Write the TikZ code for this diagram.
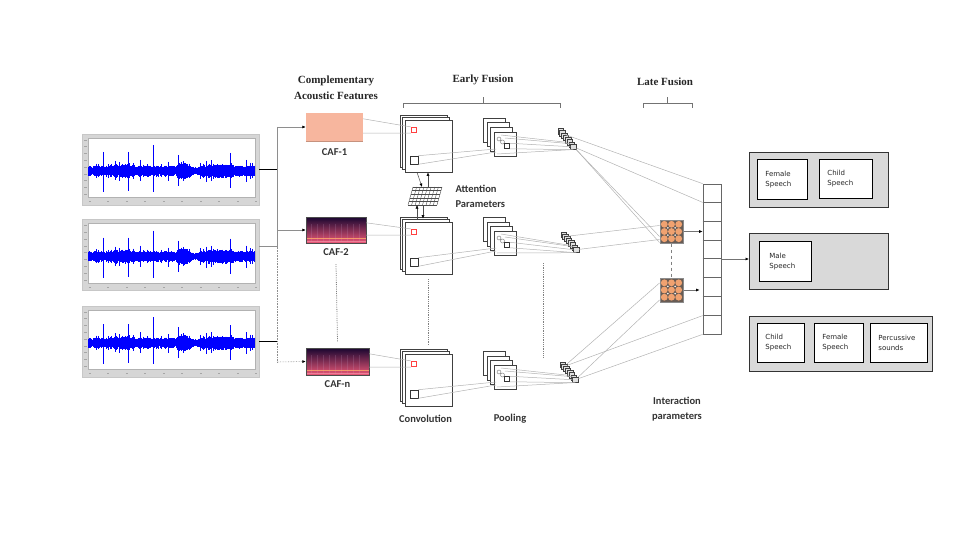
\documentclass[tikz,border=0pt]{standalone}
\usepackage{fontspec}
\setmainfont{Liberation Serif}
\setsansfont{Carlito}
\newfontfamily\boxfont{DejaVu Sans}
\usetikzlibrary{calc,arrows.meta}

\definecolor{peach}{RGB}{247,182,158}
\definecolor{magtop}{RGB}{24,6,48}
\definecolor{magmid}{RGB}{130,34,140}
\definecolor{magbot}{RGB}{236,88,120}
\definecolor{magband}{RGB}{252,168,108}
\definecolor{ipback}{RGB}{105,92,84}
\definecolor{iporange}{RGB}{240,162,112}
\definecolor{outgray}{RGB}{217,217,217}
\definecolor{wirec}{RGB}{178,178,178}

\tikzset{
    wire/.style={draw=wirec, line width=0.5pt},
    arr/.style={-{Latex[length=3.5pt,width=3pt,color=black]}},
    head/.style={font=\bfseries\fontsize{11}{15.5}\selectfont, align=center, text=black!85},
    tag/.style={font=\sffamily\bfseries\fontsize{10.5}{15}\selectfont, align=center, text=black!80},
    panel/.style={draw=black!22, fill=black!16, minimum width=177pt, minimum height=71pt, inner sep=0pt},
    wave/.style={draw=blue, line width=0.6pt},
    caf/.style={inner sep=0pt},
    convsq/.style={draw=black!75, fill=white, line width=0.7pt, minimum width=47pt, minimum height=52pt, inner sep=0pt},
    poolsq/.style={draw=black!75, fill=white, line width=0.6pt, minimum width=22pt, minimum height=24pt, inner sep=0pt},
    cube/.style={draw=black!75, fill=black!12, line width=0.5pt, minimum size=5.5pt, inner sep=0pt},
    ipgrid/.style={draw=black!45, fill=ipback, line width=0.5pt, minimum size=23.5pt, inner sep=0pt},
    outbox/.style={draw=black!80, fill=outgray, line width=0.9pt, anchor=north west, inner sep=0pt},
    cls/.style={draw=black, fill=white, line width=0.8pt, anchor=north west, align=left, inner xsep=8pt, inner ysep=0pt, font=\boxfont\fontsize{7}{10}\selectfont, text=black!85},
}

\begin{document}
\begin{tikzpicture}[x=1pt, y=-1pt]
    \useasboundingbox (0,0) rectangle (960,540);

    \node (W1) at (170.5,169.5) [panel] {};
    \node (W2) at (170.5,255) [panel] {};
    \node (W3) at (170.5,341.5) [panel] {};

    \foreach \n in {W1, W2, W3}
        {
            \fill[white, draw=black!30, line width=0.3pt] ($(\n.north west)+(6,4)$) rectangle ($(\n.south east)+(-4,-8)$);
            \foreach \k in {0,...,8}
                \draw[black!35, line width=0.3pt] ($(\n.north west)+(2.5,6+6.8*\k)$) -- ++(2.5,0);
            \foreach \k in {0,...,9}
                \draw[black!35, line width=0.3pt] ($(\n.south west)+(7+18.5*\k,-4)$) -- ++(2,0);
            \pgfmathsetseed{42}
            \foreach \t in {0,0.5,...,166.5}
                {
                    \pgfmathsetmacro{\a}{(5.4+1.8*max(0,1-abs(\t-35)/18)+5*max(0,1-abs(\t-95)/7)+2.2*max(0,1-abs(\t-128)/20)-2.2*max(0,1-abs(\t-108)/5))*(0.6+0.4*rnd)+(rnd>0.92)*4*rnd}
                    \pgfmathsetmacro{\b}{\a*(0.85+0.3*rnd)}
                    \draw[wave] ($(\n.west)+(6+\t,1.5-\a)$) -- ($(\n.west)+(6+\t,1.5+\b)$);
                }
            \foreach \t/\u/\d in {15/19/21, 40/19/20, 65/26/21, 90/16/15, 142/18/17, 52/11/10, 118/10/11, 158/11/11, 27/10/9, 80/9/10}
                \draw[wave] ($(\n.west)+(6+\t,1.5-\u)$) -- ($(\n.west)+(6+\t,1.5+\d)$);
        }

    \coordinate (J1) at (277,127);
    \coordinate (J2) at (277,230);
    \coordinate (J3) at (277,246.5);
    \coordinate (J4) at (277,362);

    \node (H1) at (336,88) [head] {Complementary\\Acoustic Features};
    \node (H2) at (483,80) [head] {Early Fusion};
    \node (H3) at (665,82) [head] {Late Fusion};

    \draw[black!55, line width=0.6pt] (403,108) -- (403,103) -- (560,103) -- (560,108) (483,103) -- (483,97);
    \draw[black!55, line width=0.6pt] (643,108) -- (643,103) -- (692,103) -- (692,108) (667,103) -- (667,97);

    \node (CAF1) at (334.5,127) [caf, fill=peach, minimum width=57pt, minimum height=28pt] {};
    \draw[peach!80!black, line width=0.8pt] (CAF1.south west) -- (CAF1.south east);
    \node (CAF2) at (336,230) [caf, top color=magtop, middle color=magmid, bottom color=magbot, minimum width=60pt, minimum height=26pt] {};
    \node (CAFn) at (337.5,361.5) [caf, top color=magtop, middle color=magmid, bottom color=magbot, minimum width=63pt, minimum height=27pt] {};

    \foreach \n in {CAF2, CAFn}
        {
            \foreach \k in {1,...,9}
                \draw[magmid!40!white, opacity=0.18, line width=0.7pt] ($(\n.north west)+(6*\k,7)$) -- ($(\n.south west)+(6*\k,-1)$);
            \draw[magband, line width=1.2pt, opacity=0.85] ($(\n.south west)+(0,-5)$) -- ($(\n.south east)+(0,-5)$);
            \draw[magbot!70!white, line width=0.8pt, opacity=0.8] ($(\n.south west)+(0,-1.5)$) -- ($(\n.south east)+(0,-1.5)$);
            \draw[black!70, line width=0.5pt] (\n.north west) rectangle (\n.south east);
        }

    \node (L1) at ($(CAF1.south)+(0,11)$) [tag] {CAF-1};
    \node (L2) at ($(CAF2.south)+(0,9)$) [tag] {CAF-2};
    \node (Ln) at ($(CAFn.south)+(0,9)$) [tag] {CAF-n};

    \foreach \n/\y in {C1/146, C2/248, Cn/380}
        {
            \foreach \k in {2,1}
                \node (\n\k) at ($(428.5,\y)+(-2.5*\k,-2.5*\k)$) [convsq] {};
            \node (\n) at (428.5,\y) [convsq] {};
            \node (R\n) at ($(\n)+(-14.5,-16)$) [draw=red!75, line width=0.6pt, minimum size=5.5pt, inner sep=0pt] {};
            \node (B\n) at ($(\n)+(-14.5,14)$) [draw=black!80, line width=0.6pt, minimum size=8pt, inner sep=0pt] {};
        }

    \coordinate (AP) at (425,196);
    \foreach \i in {0,...,8}
        \draw[black!70, line width=0.4pt] ($(AP)+(-17+29*\i/8,9)$) -- ($(AP)+(-12+29*\i/8,-9)$);
    \foreach \j in {0,...,5}
        \draw[black!70, line width=0.4pt] ($(AP)+(-17+\j,9-3.6*\j)$) -- ($(AP)+(12+\j,9-3.6*\j)$);

    \node (AT) at ($(AP)+(27,0)$) [tag, anchor=west, align=left] {Attention\\Parameters};

    \foreach \n/\y in {P1/144, P2/243, Pn/377}
        {
            \foreach \k in {3,2,1}
                \node (\n\k) at ($(505,\y)+(-3.6*\k,-4.6*\k)$) [poolsq] {};
            \node (\n) at (505,\y) [poolsq] {};
            \draw[black!55, line width=0.4pt] ($(\n)+(-6,-5)$) circle (2pt) ($(\n)+(-2.5,-2)$) circle (2pt);
            \node (S\n) at ($(\n)+(2,2)$) [draw=black!80, line width=0.5pt, minimum size=5pt, inner sep=0pt] {};
        }

    \node (CT) at ($(Cn.south)+(-3,12)$) [tag] {Convolution};
    \node (PT) at ($(Pn.south)+(5,29)$) [tag] {Pooling};

    \foreach \n/\x/\y in {V1/568/140, V2/571/243, Vn/570/373}
        {
            \foreach \k in {0,...,3}
                {
                    \node (\n\k b) at ($(\x,\y)+(-7.5+3.8*\k,-8.5+4.4*\k)$) [cube] {};
                    \node (\n\k) at ($(\x,\y)+(-6+3.8*\k,-6.5+4.4*\k)$) [cube] {};
                }
        }

    \draw[black!50, densely dotted, line width=0.8pt] ($(L2.south)+(0,5)$) -- ($(CAFn.north)+(0,-6)$);
    \draw[black!50, densely dotted, line width=0.8pt] ($(C2.south)+(0,5)$) -- ($(Cn.north)+(0,-9)$);
    \draw[black!50, densely dotted, line width=0.8pt] ($(P2)+(38,20)$) -- ($(Pn)+(38,-20)$);

    \node (IP1) at (671.5,231.5) [ipgrid] {};
    \node (IP2) at (671.5,290) [ipgrid] {};
    \foreach \n in {IP1, IP2}
        {
            \foreach \i in {-1,0,1}
                \foreach \j in {-1,0,1}
                    \fill[iporange] ($(\n)+(7.2*\i,7.2*\j)$) circle (3.4pt);
            \foreach \i in {-0.5,0.5}
                \foreach \j in {-0.5,0.5}
                    \fill[white] ($(\n)+(7.2*\i,7.2*\j)$) circle (0.9pt);
        }
    \draw[black!50, dashed, line width=0.6pt] (IP1.south) -- (IP2.north);

    \node (FV) at (712,259) [draw=black!60, line width=0.7pt, minimum width=18pt, minimum height=150pt, inner sep=0pt] {};
    \foreach \k in {1,...,7}
        \draw[black!60, line width=0.7pt] ($(FV.north west)+(0,18.75*\k)$) -- ($(FV.north east)+(0,18.75*\k)$);

    \node (IT) at (677,409.5) [tag] {Interaction\\parameters};

    \node (G1) at (749,152) [outbox, minimum width=139pt, minimum height=55pt] {};
    \node (G2) at (749,233) [outbox, minimum width=139pt, minimum height=56pt] {};
    \node (G3) at (749,316) [outbox, minimum width=183pt, minimum height=55pt] {};

    \node (F1) at ($(G1.north west)+(8,7)$) [cls, text width=34pt, minimum height=40pt] {Female\\Speech};
    \node (K1) at ($(G1.north west)+(70,7)$) [cls, text width=37pt, minimum height=39pt] {Child\\Speech};
    \node (M2) at ($(G2.north west)+(10,8)$) [cls, inner xsep=10pt, text width=32pt, minimum height=40pt] {Male\\Speech};
    \node (K3) at ($(G3.north west)+(8,7)$) [cls, text width=31pt, minimum height=39pt] {Child\\Speech};
    \node (F3) at ($(G3.north west)+(65,7)$) [cls, text width=33pt, minimum height=39pt] {Female\\Speech};
    \node (S3) at ($(G3.north west)+(121,7)$) [cls, text width=41pt, minimum height=39pt] {Percussive\\sounds};

    \draw[black, line width=0.8pt] (W1.east) -- (W1.east -| J1);
    \draw[wirec!80!black, line width=0.8pt] ($(W2.east)+(0,-8.5)$) -- (J3);
    \draw[black, line width=0.8pt] (W3.east) -- (W3.east -| J1);
    \draw[wirec!80!black, line width=0.6pt] (J1) -- (J3);
    \draw[wirec!80!black, line width=0.6pt, densely dotted] (J3) -- (J4);
    \draw[wirec!80!black, line width=0.6pt, arr] (J1) -- (CAF1.west);
    \draw[wirec!80!black, line width=0.6pt, arr] (J2) -- (CAF2.west);
    \draw[wirec!80!black, line width=0.6pt, densely dotted, arr] (J4) -- (CAFn.west);

    \foreach \n/\c in {CAF1/C1, CAF2/C2, CAFn/Cn}
        {
            \draw[wire] ($(\n.north east)+(0,6)$) -- (R\c.north west);
            \draw[wire] ($(\n.south east)+(0,-8)$) -- (R\c.south west);
        }

    \foreach \c/\p in {C1/P1, C2/P2, Cn/Pn}
        {
            \draw[wire] (B\c.north east) -- ($(\p)+(-9,5)$);
            \draw[wire] (B\c.south east) -- ($(\p)+(-9,8)$);
        }

    \foreach \p/\v in {P1/V1, P2/V2, Pn/Vn}
        {
            \draw[wire] ($(\p)+(-4,-9)$) -- (\v2.west);
            \draw[wire] ($(\p)+(0,-6)$) -- (\v3.north west);
            \draw[wire] (S\p.north east) -- (\v3.west);
            \draw[wire] (S\p.south east) -- (\v3.south);
            \draw[wire] ($(\p)+(-8,10)$) -- (\v3.south west);
        }

    \draw[black!70, line width=0.5pt, arr] ($(C1.south)+(-11.5,0)$) -- ($(AP)+(-3,-9)$);
    \draw[black!70, line width=0.5pt, arr] ($(AP)+(3,-9)$) -- ($(C1.south)+(-0.5,0)$);
    \draw[black!70, line width=0.5pt, arr] ($(C2.north)+(-11.5,-3)$) -- ($(AP)+(-8,9)$);
    \draw[black!70, line width=0.5pt, arr] ($(AP)+(-2,9)$) -- ($(C2.north)+(-5.5,-3)$);

    \draw[wire] (V10) -- (FV.north west);
    \draw[wire] (V13) -- ($(FV.north west)+(0,18.75)$);
    \draw[wire] (V13) -- ($(IP1.west)+(0,5)$);
    \draw[wire] (V13.south east) -- ($(IP1.south west)+(0,-1)$);
    \draw[wire] (V20) -- ($(IP1.west)+(0,-6)$);
    \draw[wire] (V23) -- ($(IP1.west)+(0,8)$);
    \draw[wire] (Vn0) -- ($(IP2.west)+(0,-7)$);
    \draw[wire] (Vn0) -- ($(FV.south west)+(0,-18.75)$);
    \draw[wire] (Vn3) -- ($(IP2.west)+(0,10)$);
    \draw[wire] (Vn3) -- (FV.south west);

    \draw[black!55, line width=0.6pt, arr] (IP1.east) -- (IP1.east -| FV.west);
    \draw[black!55, line width=0.6pt, arr] (IP2.east) -- ($(IP2.east -| FV.west)+(-3,0)$);
    \draw[black!55, line width=0.6pt, arr] (FV.east) -- (FV.east -| G2.west);

\end{tikzpicture}
\end{document}
